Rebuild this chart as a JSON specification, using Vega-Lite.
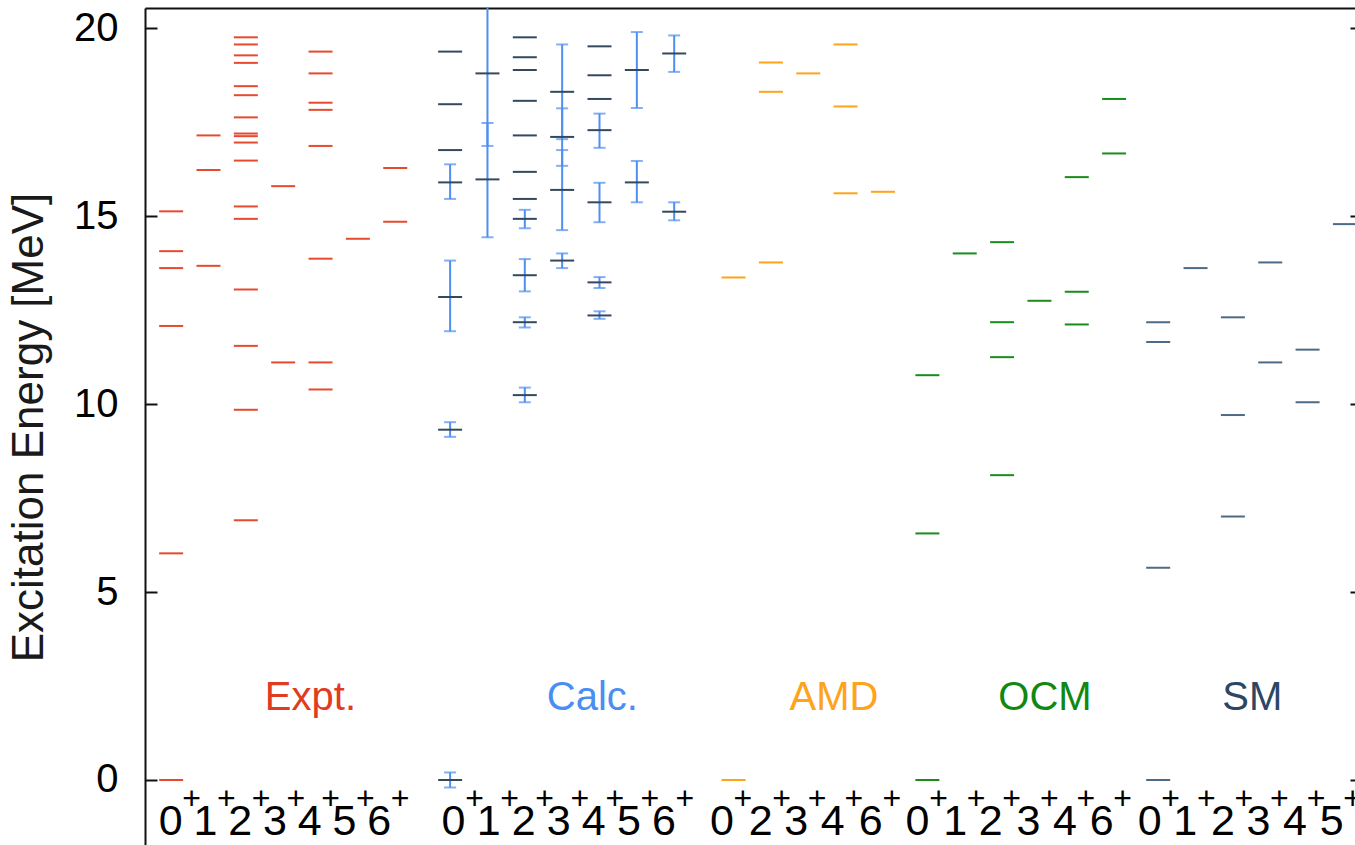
{
 "$schema": "https://vega.github.io/schema/vega-lite/v6.json",
 "width": 1210,
 "height": 837,
 "autosize": {"type": "none"},
 "padding": {"left": 145, "top": 8, "right": 0, "bottom": 0},
 "background": "white",
 "config": {"view": {"stroke": null}, "font": "Liberation Sans"},
 "datasets": {
  "lv": [
   {"m":"Expt","pos":0.7,"E":0},{"m":"Expt","pos":0.7,"E":6.03},{"m":"Expt","pos":0.7,"E":12.08},{"m":"Expt","pos":0.7,"E":13.62},{"m":"Expt","pos":0.7,"E":14.07},{"m":"Expt","pos":0.7,"E":15.13},
   {"m":"Expt","pos":1.7,"E":13.68},{"m":"Expt","pos":1.7,"E":16.23},{"m":"Expt","pos":1.7,"E":17.15},
   {"m":"Expt","pos":2.7,"E":6.91},{"m":"Expt","pos":2.7,"E":9.85},{"m":"Expt","pos":2.7,"E":11.55},{"m":"Expt","pos":2.7,"E":13.05},{"m":"Expt","pos":2.7,"E":14.93},{"m":"Expt","pos":2.7,"E":15.26},{"m":"Expt","pos":2.7,"E":16.48},{"m":"Expt","pos":2.7,"E":16.96},{"m":"Expt","pos":2.7,"E":17.13},{"m":"Expt","pos":2.7,"E":17.2},{"m":"Expt","pos":2.7,"E":17.63},{"m":"Expt","pos":2.7,"E":18.22},{"m":"Expt","pos":2.7,"E":18.46},{"m":"Expt","pos":2.7,"E":19.08},{"m":"Expt","pos":2.7,"E":19.28},{"m":"Expt","pos":2.7,"E":19.57},{"m":"Expt","pos":2.7,"E":19.76},
   {"m":"Expt","pos":3.7,"E":11.11},{"m":"Expt","pos":3.7,"E":15.8},
   {"m":"Expt","pos":4.7,"E":10.39},{"m":"Expt","pos":4.7,"E":11.11},{"m":"Expt","pos":4.7,"E":13.87},{"m":"Expt","pos":4.7,"E":16.87},{"m":"Expt","pos":4.7,"E":17.83},{"m":"Expt","pos":4.7,"E":18.02},{"m":"Expt","pos":4.7,"E":18.8},{"m":"Expt","pos":4.7,"E":19.38},
   {"m":"Expt","pos":5.7,"E":14.4},
   {"m":"Expt","pos":6.7,"E":14.85},{"m":"Expt","pos":6.7,"E":16.28},
   {"m":"Calc","pos":8.17,"E":0,"lo":-0.2,"hi":0.2},{"m":"Calc","pos":8.17,"E":9.32,"lo":9.13,"hi":9.52},{"m":"Calc","pos":8.17,"E":12.85,"lo":11.94,"hi":13.82},{"m":"Calc","pos":8.17,"E":15.9,"lo":15.46,"hi":16.38},{"m":"Calc","pos":8.17,"E":16.76},{"m":"Calc","pos":8.17,"E":17.98},{"m":"Calc","pos":8.17,"E":19.38},
   {"m":"Calc","pos":9.17,"E":15.98,"lo":14.44,"hi":17.48},{"m":"Calc","pos":9.17,"E":18.8,"lo":16.87,"hi":20.73},
   {"m":"Calc","pos":10.17,"E":10.24,"lo":10.05,"hi":10.44},{"m":"Calc","pos":10.17,"E":12.18,"lo":12.04,"hi":12.31},{"m":"Calc","pos":10.17,"E":13.43,"lo":13.0,"hi":13.86},{"m":"Calc","pos":10.17,"E":14.93,"lo":14.68,"hi":15.17},{"m":"Calc","pos":10.17,"E":15.46},{"m":"Calc","pos":10.17,"E":16.18},{"m":"Calc","pos":10.17,"E":17.15},{"m":"Calc","pos":10.17,"E":18.07},{"m":"Calc","pos":10.17,"E":18.89},{"m":"Calc","pos":10.17,"E":19.23},{"m":"Calc","pos":10.17,"E":19.76},
   {"m":"Calc","pos":11.17,"E":13.82,"lo":13.62,"hi":14.01},{"m":"Calc","pos":11.17,"E":15.7,"lo":14.63,"hi":16.76},{"m":"Calc","pos":11.17,"E":17.11,"lo":16.34,"hi":17.87},{"m":"Calc","pos":11.17,"E":18.31,"lo":17.05,"hi":19.57},
   {"m":"Calc","pos":12.17,"E":12.36,"lo":12.27,"hi":12.47},{"m":"Calc","pos":12.17,"E":13.24,"lo":13.09,"hi":13.38},{"m":"Calc","pos":12.17,"E":15.37,"lo":14.84,"hi":15.89},{"m":"Calc","pos":12.17,"E":17.29,"lo":16.82,"hi":17.73},{"m":"Calc","pos":12.17,"E":18.12},{"m":"Calc","pos":12.17,"E":18.75},{"m":"Calc","pos":12.17,"E":19.52},
   {"m":"Calc","pos":13.17,"E":15.9,"lo":15.37,"hi":16.47},{"m":"Calc","pos":13.17,"E":18.89,"lo":17.88,"hi":19.9},
   {"m":"Calc","pos":14.17,"E":15.12,"lo":14.89,"hi":15.37},{"m":"Calc","pos":14.17,"E":19.33,"lo":18.84,"hi":19.81},
   {"m":"AMD","pos":15.76,"E":0},{"m":"AMD","pos":15.76,"E":13.37},
   {"m":"AMD","pos":16.76,"E":13.77},{"m":"AMD","pos":16.76,"E":18.31},{"m":"AMD","pos":16.76,"E":19.09},
   {"m":"AMD","pos":17.76,"E":18.8},
   {"m":"AMD","pos":18.76,"E":15.61},{"m":"AMD","pos":18.76,"E":17.92},{"m":"AMD","pos":18.76,"E":19.57},
   {"m":"AMD","pos":19.76,"E":15.65},
   {"m":"OCM","pos":20.95,"E":0},{"m":"OCM","pos":20.95,"E":6.56},{"m":"OCM","pos":20.95,"E":10.77},
   {"m":"OCM","pos":21.95,"E":14.01},
   {"m":"OCM","pos":22.95,"E":8.11},{"m":"OCM","pos":22.95,"E":11.25},{"m":"OCM","pos":22.95,"E":12.18},{"m":"OCM","pos":22.95,"E":14.31},
   {"m":"OCM","pos":23.95,"E":12.75},
   {"m":"OCM","pos":24.95,"E":12.12},{"m":"OCM","pos":24.95,"E":12.99},{"m":"OCM","pos":24.95,"E":16.04},
   {"m":"OCM","pos":25.95,"E":16.67},{"m":"OCM","pos":25.95,"E":18.12},
   {"m":"SM","pos":27.13,"E":0},{"m":"SM","pos":27.13,"E":5.65},{"m":"SM","pos":27.13,"E":11.65},{"m":"SM","pos":27.13,"E":12.18},
   {"m":"SM","pos":28.13,"E":13.62},
   {"m":"SM","pos":29.13,"E":7.01},{"m":"SM","pos":29.13,"E":9.71},{"m":"SM","pos":29.13,"E":12.31},
   {"m":"SM","pos":30.13,"E":11.11},{"m":"SM","pos":30.13,"E":13.77},
   {"m":"SM","pos":31.13,"E":10.05},{"m":"SM","pos":31.13,"E":11.45},
   {"m":"SM","pos":32.13,"E":14.79}
  ],
  "lab": [
   {"pos":0.685,"d":"0"},{"pos":1.616,"d":"1"},{"pos":2.547,"d":"2"},{"pos":3.478,"d":"3"},{"pos":4.409,"d":"4"},{"pos":5.34,"d":"5"},{"pos":6.271,"d":"6"},
   {"pos":8.262,"d":"0"},{"pos":9.201,"d":"1"},{"pos":10.14,"d":"2"},{"pos":11.079,"d":"3"},{"pos":12.018,"d":"4"},{"pos":12.957,"d":"5"},{"pos":13.896,"d":"6"},
   {"pos":15.449,"d":"0"},{"pos":16.485,"d":"2"},{"pos":17.435,"d":"3"},{"pos":18.415,"d":"4"},{"pos":19.435,"d":"6"},
   {"pos":20.685,"d":"0"},{"pos":21.692,"d":"1"},{"pos":22.645,"d":"2"},{"pos":23.655,"d":"3"},{"pos":24.632,"d":"4"},{"pos":25.615,"d":"6"},
   {"pos":26.902,"d":"0"},{"pos":27.855,"d":"1"},{"pos":28.862,"d":"2"},{"pos":29.815,"d":"3"},{"pos":30.795,"d":"4"},{"pos":31.775,"d":"5"}
  ],
  "names": [
   {"m":"Expt","name":"Expt.","pos":4.43},
   {"m":"Calc","name":"Calc.","pos":11.98},
   {"m":"AMD","name":"AMD","pos":18.45},
   {"m":"OCM","name":"OCM","pos":24.1},
   {"m":"SM","name":"SM","pos":29.65}
  ]
 },
 "layer": [
  {
   "data": {"name": "lv"},
   "transform": [{"filter": {"field": "lo", "valid": true}}],
   "mark": {"type": "rule", "color": "#4f8ff0", "strokeWidth": 2, "clip": true},
   "encoding": {
    "x": {"field": "pos", "type": "quantitative", "scale": {"domain": [0, 32.4], "nice": false, "zero": false},
          "axis": {"orient": "top", "ticks": false, "labels": false, "title": null, "grid": false, "domainColor": "#111", "domainWidth": 2}},
    "y": {"field": "lo", "type": "quantitative", "scale": {"domain": [-1.73, 20.54], "nice": false, "zero": false},
          "axis": {"orient": "left", "values": [0, 5, 10, 15, 20], "grid": false, "tickSize": -12, "tickWidth": 2, "tickColor": "#111",
                   "domainColor": "#111", "domainWidth": 2, "labelFontSize": 40, "labelFont": "Liberation Sans", "labelColor": "#000", "labelPadding": 39,
                   "title": "Excitation Energy [MeV]", "titleFontSize": 44, "titleFont": "Liberation Sans", "titleFontWeight": "normal", "titleColor": "#1a1a1a",
                   "titleX": -103, "titleY": 419, "titleAngle": -90, "titleAlign": "center", "titleBaseline": "alphabetic"}},
    "y2": {"field": "hi"}
   }
  },
  {
   "data": {"name": "lv"},
   "transform": [{"filter": {"field": "lo", "valid": true}}],
   "mark": {"type": "tick", "orient": "horizontal", "size": 12, "thickness": 2, "color": "#4f8ff0", "clip": true},
   "encoding": {
    "x": {"field": "pos", "type": "quantitative"},
    "y": {"field": "lo", "type": "quantitative", "axis": null}
   }
  },
  {
   "data": {"name": "lv"},
   "transform": [{"filter": {"field": "hi", "valid": true}}],
   "mark": {"type": "tick", "orient": "horizontal", "size": 12, "thickness": 2, "color": "#4f8ff0", "clip": true},
   "encoding": {
    "x": {"field": "pos", "type": "quantitative"},
    "y": {"field": "hi", "type": "quantitative", "axis": null}
   }
  },
  {
   "data": {"name": "lv"},
   "mark": {"type": "tick", "orient": "horizontal", "size": 24, "thickness": 2, "clip": true, "opacity": 1},
   "encoding": {
    "x": {"field": "pos", "type": "quantitative"},
    "y": {"field": "E", "type": "quantitative",
          "axis": {"orient": "right", "values": [0, 5, 10, 15, 20], "grid": false, "domain": false, "labels": false, "title": null, "tickSize": -5, "tickWidth": 2, "tickColor": "#111"}},
    "color": {"field": "m", "type": "nominal", "legend": null,
              "scale": {"domain": ["Expt", "Calc", "AMD", "OCM", "SM"], "range": ["#e64a2e", "#34495e", "#ffa31a", "#1a8c1a", "#4f6a84"]}}
   }
  },
  {
   "data": {"name": "lab"},
   "mark": {"type": "text", "fontSize": 43, "font": "Liberation Sans", "align": "center", "baseline": "alphabetic", "color": "#000"},
   "encoding": {
    "x": {"field": "pos", "type": "quantitative"},
    "y": {"datum": -1.463, "axis": null},
    "text": {"field": "d"}
   }
  },
  {
   "data": {"name": "lab"},
   "mark": {"type": "text", "fontSize": 32, "font": "Liberation Sans", "align": "center", "baseline": "alphabetic", "dx": 21, "color": "#000"},
   "encoding": {
    "x": {"field": "pos", "type": "quantitative"},
    "y": {"datum": -0.77, "axis": null},
    "text": {"value": "+"}
   }
  },
  {
   "data": {"name": "names"},
   "mark": {"type": "text", "fontSize": 40, "font": "Liberation Sans", "align": "center", "baseline": "alphabetic"},
   "encoding": {
    "x": {"field": "pos", "type": "quantitative"},
    "y": {"datum": 1.86, "axis": null},
    "text": {"field": "name"},
    "color": {"field": "m", "type": "nominal", "legend": null,
              "scale": {"domain": ["Expt", "Calc", "AMD", "OCM", "SM"], "range": ["#e03c21", "#4a8ef2", "#ffa31a", "#118811", "#2c4763"]}}
   }
  }
 ],
 "resolve": {"scale": {"color": "independent"}, "axis": {"y": "independent"}}
}
